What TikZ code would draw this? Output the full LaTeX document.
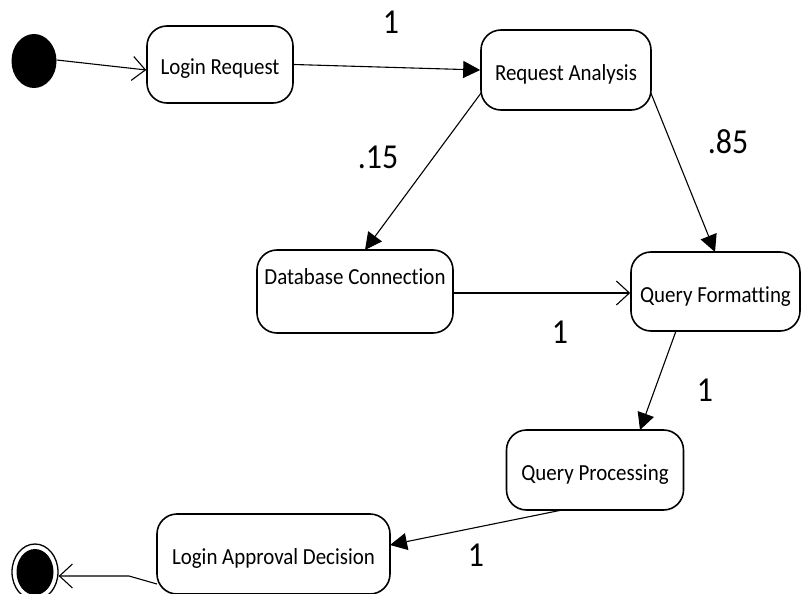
\documentclass[tikz,border=0pt]{standalone}
\usepackage{fontspec}
\setmainfont[Ligatures={NoCommon},FakeStretch=0.91]{Carlito}
\usetikzlibrary{arrows.meta,shapes.geometric}
\begin{document}
\begin{tikzpicture}[x=1pt,y=-1pt,
  label font/.style={font=\fontsize{23}{26}\selectfont,text height=21pt,text depth=0pt},
  state/.style={draw,line width=1.6pt,rounded corners=20pt,label font,align=center,inner sep=0pt},
  flow/.style={line width=1.1pt},
  opentip/.style={-{Straight Barb[length=13pt,width=24pt,line width=1.1pt]}},
  filltip/.style={-{Triangle[length=17pt,width=17pt]}},
  prob/.style={font=\fontsize{35}{38}\selectfont}]
\useasboundingbox (0,0) rectangle (804,594);
% start and end markers
\node[ellipse,fill=black,minimum width=45pt,minimum height=54pt,inner sep=0pt] (init) at (34,61) {};
\node[ellipse,draw,line width=1.3pt,minimum width=46pt,minimum height=56pt,inner sep=0pt] (final) at (35,572) {};
\node[ellipse,fill=black,minimum width=37pt,minimum height=46pt,inner sep=0pt] (finalc) at (35,572) {};
% states
\node[state,minimum width=146pt,minimum height=77pt] (lr) at (220,64.5) {Login Request};
\node[state,minimum width=170pt,minimum height=80pt] (ra) at (566,70) {Request Analysis};
\node[state,minimum width=196pt,minimum height=83pt] (dc) at (355,291.5) {};
\node[label font] (dct) at (355,274) {Database Connection};
\node[state,minimum width=169pt,minimum height=79pt] (qf) at (715.5,291.5) {Query Formatting};
\node[state,minimum width=177pt,minimum height=80pt] (qp) at (595,470) {Query Processing};
\node[state,minimum width=233pt,minimum height=80pt] (la) at (273.5,554) {Login Approval Decision};
% transitions
\draw[flow,opentip] (init.east) ++(0,-1) -- (lr.west |- 0,70);
\draw[flow,filltip] (lr.east) -- (ra.west);
\draw[flow,filltip] (ra.south west) ++(1,-18) coordinate (ra1) -- (365,250);
\draw[flow,filltip] (ra.south east) ++(-1,-18) coordinate (ra2) -- (715,252);
\draw[flow,opentip] (dc.east) ++(0,1.5) coordinate (dc1) -- (qf.west |- dc1);
\draw[flow,filltip] (676,331) coordinate (qf1) -- (640,430);
\draw[flow,filltip] (562,510) coordinate (qp1) -- (390,545);
\draw[flow,opentip] (157,584) coordinate (la1) -- (129,576) -- (final.east |- 0,576);
% probabilities
\node[prob] (p1) at (391,22) {1};
\node[prob] (p2) at (378,157) {.15};
\node[prob] (p3) at (728,142) {.85};
\node[prob] (p4) at (560,332) {1};
\node[prob] (p5) at (705,390) {1};
\node[prob] (p6) at (476,555) {1};
\end{tikzpicture}
\end{document}
